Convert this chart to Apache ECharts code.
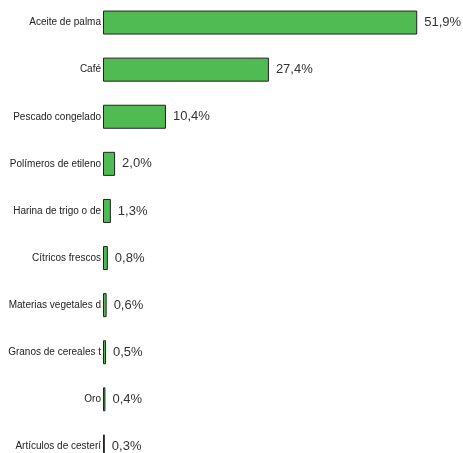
<!DOCTYPE html>
<html><head><meta charset="utf-8">
<script src="https://cdn.jsdelivr.net/npm/echarts@6/dist/echarts.min.js"></script>
<style>html,body{margin:0;padding:0;background:#fff}#c{width:463px;height:453px}</style>
</head><body><div id="c"></div>
<script>
const categories = ["Aceite de palma","Café","Pescado congelado","Polímeros de etileno","Harina de trigo o de","Cítricos frescos","Materias vegetales d","Granos de cereales t","Oro","Artículos de cesterí"];
const values = [51.9,27.4,10.4,2.0,1.3,0.8,0.6,0.5,0.4,0.3];
const FONT = "'Liberation Sans Narrow','Arial Narrow','Liberation Sans',sans-serif";
const chart = echarts.init(document.getElementById('c'), null, {renderer:'canvas'});
chart.setOption({
  animation:false,
  grid:{left:103, right:27, top:-1, bottom:-17, containLabel:false, outerBoundsMode:'none'},
  xAxis:{type:'value', min:0, max:55, show:false},
  yAxis:{type:'category', inverse:true, data:categories,
    axisLine:{show:false}, axisTick:{show:false},
    axisLabel:{margin:2, fontFamily:FONT, fontSize:10, color:'#222'}},
  series:[{type:'bar', data:values, barCategoryGap:'49%',
    itemStyle:{color:'#4FBB52', borderColor:'#222', borderWidth:1},
    label:{show:true, position:'right', distance:7, fontFamily:FONT, fontSize:13, color:'#333',
      formatter:p=>p.value.toFixed(1).replace('.',',')+'%'}}]
});
</script></body></html>
